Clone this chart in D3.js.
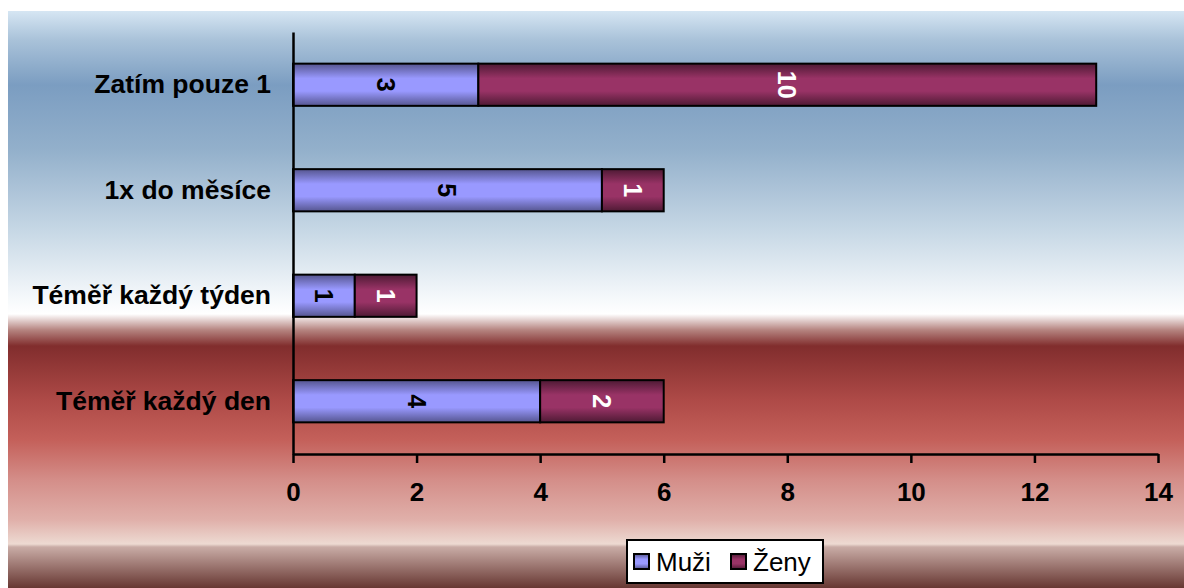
<!DOCTYPE html>
<html><head><meta charset="utf-8">
<script src="https://cdn.jsdelivr.net/npm/d3@7"></script>
<style>html,body{margin:0;padding:0;background:#fff;}svg{display:block;}</style>
</head><body>
<script>
const categories = ["Zatím pouze 1", "1x do měsíce", "Téměř každý týden", "Téměř každý den"];
const seriesNames = ["Muži", "Ženy"];
const muzi = [3, 5, 1, 4];
const zeny = [10, 1, 1, 2];
const xTicks = [0, 2, 4, 6, 8, 10, 12, 14];

const W = 1184, H = 588;
const FONT = "Liberation Sans, Arial, sans-serif";
const svg = d3.select("body").append("svg").attr("width", W).attr("height", H);
const defs = svg.append("defs");

// background gradient
const bg = defs.append("linearGradient").attr("id", "bg").attr("gradientUnits", "userSpaceOnUse")
  .attr("x1", 0).attr("y1", 11).attr("x2", 0).attr("y2", 588);
const bgStops = [[11,"#d6e6f3"],[40,"#a9c2d9"],[85,"#7b9dc1"],[150,"#93b0cb"],[230,"#c6d7e5"],[295,"#f3f7fa"],[314,"#ffffff"],[330,"#b58480"],[346,"#812d2d"],[400,"#ae4a47"],[440,"#c4605a"],[480,"#d48e89"],[520,"#e0b0aa"],[544,"#eddad2"],[547,"#c9aca6"],[588,"#673732"]];
bgStops.forEach(([y,c]) => bg.append("stop").attr("offset", ((y-11)/(588-11))).attr("stop-color", c));
svg.append("rect").attr("x", 8).attr("y", 11).attr("width", W-8).attr("height", H-11).attr("fill", "url(#bg)");

const colors = ["#9999ff", "#993366"];
const darks = ["#55558f", "#4e1a34"];
colors.forEach((c, i) => {
  const g = defs.append("linearGradient").attr("id", "bar" + i).attr("x1", 0).attr("y1", 0).attr("x2", 0).attr("y2", 1);
  g.append("stop").attr("offset", 0).attr("stop-color", darks[i]);
  g.append("stop").attr("offset", 0.35).attr("stop-color", c);
  g.append("stop").attr("offset", 0.65).attr("stop-color", c);
  g.append("stop").attr("offset", 1).attr("stop-color", darks[i]);
});

const x = d3.scaleLinear().domain([0, 14]).range([293, 1158]);
const y = d3.scaleBand().domain(categories).range([32, 454]).paddingInner(0.6).paddingOuter(0.3);

// bars
const series = [muzi, zeny];
series.forEach((vals, s) => {
  const gS = svg.append("g");
  categories.forEach((c, i) => {
    const x0 = s === 0 ? 0 : muzi[i];
    const x1 = x0 + vals[i];
    gS.append("rect").attr("x", x(x0)).attr("y", y(c)).attr("width", x(x1) - x(x0)).attr("height", y.bandwidth())
      .attr("fill", "url(#bar" + s + ")").attr("stroke", "#000").attr("stroke-width", 2);
    const cx = (x(x0) + x(x1)) / 2, cy = y(c) + y.bandwidth() / 2;
    gS.append("text").attr("transform", `translate(${cx},${cy}) rotate(90)`)
      .attr("text-anchor", "middle").attr("dominant-baseline", "central")
      .attr("font-family", FONT).attr("font-weight", "bold").attr("font-size", 25)
      .attr("fill", s === 0 ? "#000" : "#fff").text(vals[i]);
  });
});

// axes
const xAxis = svg.append("g").attr("transform", "translate(0,454)")
  .call(d3.axisBottom(x).tickValues(xTicks).tickSize(9).tickPadding(20).tickSizeOuter(0));
xAxis.select(".domain").attr("stroke", "#000").attr("stroke-width", 2.5);
xAxis.selectAll(".tick line").attr("stroke", "#000").attr("stroke-width", 2.5);
xAxis.selectAll(".tick text").attr("font-family", FONT).attr("font-weight", "bold")
  .attr("font-size", 26).attr("fill", "#000");

const yAxis = svg.append("g").attr("transform", "translate(293,0)")
  .call(d3.axisLeft(y).tickSize(0).tickPadding(22));
yAxis.select(".domain").attr("stroke", "#000").attr("stroke-width", 2.5);
yAxis.selectAll(".tick text").attr("font-family", FONT).attr("font-weight", "bold")
  .attr("font-size", 26.5).attr("fill", "#000");

// legend
const lg = svg.append("g");
lg.append("rect").attr("x", 627).attr("y", 540).attr("width", 196).attr("height", 43)
  .attr("fill", "#fff").attr("stroke", "#000").attr("stroke-width", 2);
const legX = [634, 731];
seriesNames.forEach((n, i) => {
  lg.append("rect").attr("x", legX[i]).attr("y", 554).attr("width", 15).attr("height", 15)
    .attr("fill", "url(#bar" + i + ")").attr("stroke", "#000").attr("stroke-width", 2);
  lg.append("text").attr("x", legX[i] + 22).attr("y", 571)
    .attr("font-family", FONT).attr("font-size", 26).attr("fill", "#000").text(n);
});
</script>
</body></html>
